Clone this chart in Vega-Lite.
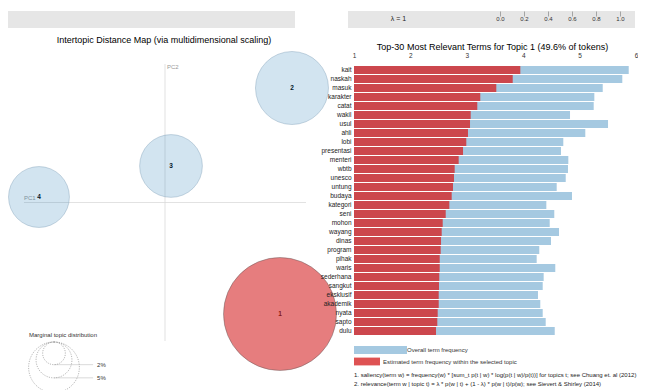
{
  "$schema": "https://vega.github.io/schema/vega-lite/v6.json",
  "padding": {"left": 7, "top": 10, "right": 0, "bottom": 0},
  "config": {
    "view": {"stroke": null},
    "font": "Liberation Sans",
    "title": {"fontWeight": "normal", "color": "#000"},
    "axis": {"grid": false}
  },
  "datasets": {
    "topics": [
      {"topic": 1, "PC1": 0.2447, "PC2": -0.2415, "share": 0.496},
      {"topic": 2, "PC1": 0.2702, "PC2": 0.248, "share": 0.207},
      {"topic": 3, "PC1": 0.0128, "PC2": 0.0791, "share": 0.153},
      {"topic": 4, "PC1": -0.2681, "PC2": 0.0119, "share": 0.144}
    ],
    "marginal": [
      {"share": 0.02, "label": "2%"},
      {"share": 0.05, "label": "5%"},
      {"share": 0.1, "label": "10%"}
    ],
    "terms": [
      {"term": "kait", "Total": 5.871, "Freq": 3.949},
      {"term": "naskah", "Total": 5.757, "Freq": 3.814},
      {"term": "masuk", "Total": 5.41, "Freq": 3.523},
      {"term": "karakter", "Total": 5.261, "Freq": 3.239},
      {"term": "catat", "Total": 5.25, "Freq": 3.186},
      {"term": "wakil", "Total": 4.83, "Freq": 3.069},
      {"term": "usul", "Total": 5.504, "Freq": 3.057},
      {"term": "ahli", "Total": 5.101, "Freq": 3.021},
      {"term": "lobi", "Total": 4.711, "Freq": 2.991},
      {"term": "presentasi", "Total": 4.67, "Freq": 2.933},
      {"term": "menteri", "Total": 4.8, "Freq": 2.856},
      {"term": "wbtb", "Total": 4.794, "Freq": 2.785},
      {"term": "unesco", "Total": 4.754, "Freq": 2.773},
      {"term": "untung", "Total": 4.594, "Freq": 2.755},
      {"term": "budaya", "Total": 4.865, "Freq": 2.732},
      {"term": "kategori", "Total": 4.41, "Freq": 2.69},
      {"term": "seni", "Total": 4.551, "Freq": 2.626},
      {"term": "mohon", "Total": 4.47, "Freq": 2.573},
      {"term": "wayang", "Total": 4.635, "Freq": 2.555},
      {"term": "dinas", "Total": 4.493, "Freq": 2.543},
      {"term": "program", "Total": 4.285, "Freq": 2.537},
      {"term": "pihak", "Total": 4.239, "Freq": 2.52},
      {"term": "waris", "Total": 4.569, "Freq": 2.52},
      {"term": "sederhana", "Total": 4.363, "Freq": 2.512},
      {"term": "sangkut", "Total": 4.346, "Freq": 2.507},
      {"term": "eksklusif", "Total": 4.262, "Freq": 2.502},
      {"term": "akademik", "Total": 4.303, "Freq": 2.502},
      {"term": "nyata", "Total": 4.346, "Freq": 2.484},
      {"term": "sapto", "Total": 4.399, "Freq": 2.477},
      {"term": "dulu", "Total": 4.559, "Freq": 2.454}
    ]
  },
  "columns": 2,
  "bounds": "flush",
  "align": {"row": "each", "column": "each"},
  "spacing": {"row": 36, "column": 53},
  "resolve": {"legend": {"color": "independent", "fill": "independent"}},
  "concat": [
    {
      "width": 287,
      "height": 17,
      "view": {"fill": "#e6e6e6", "stroke": null},
      "data": {"values": [{"panel": "topic"}]},
      "mark": {"type": "point", "opacity": 0},
      "encoding": {}
    },
    {
      "width": 287,
      "height": 17,
      "view": {"fill": "#e6e6e6", "stroke": null},
      "data": {"values": [{"lambda": 1}]},
      "mark": {"type": "point", "opacity": 0},
      "encoding": {
        "x": {
          "field": "lambda",
          "type": "quantitative",
          "scale": {"domain": [-1.267, 1.125], "nice": false, "zero": false},
          "axis": {
            "orient": "bottom",
            "offset": -17,
            "values": [0, 0.2, 0.4, 0.6, 0.8, 1],
            "format": ".1f",
            "domain": false,
            "tickSize": 5,
            "tickColor": "#777",
            "tickWidth": 0.6,
            "labelFontSize": 6,
            "labelPadding": -0.5,
            "labelColor": "#333",
            "labelFlush": false,
            "labelOverlap": false,
            "title": "λ = 1",
            "titleX": 50,
            "titleY": 7,
            "titleFontSize": 7,
            "titleFontWeight": "normal",
            "titleBaseline": "middle",
            "titleAlign": "center",
            "titleColor": "#222"
          }
        }
      }
    },
    {
      "bounds": "flush",
      "spacing": 1,
      "vconcat": [
        {
          "width": 298,
          "height": 277,
          "title": {
            "text": "Intertopic Distance Map (via multidimensional scaling)",
            "fontSize": 9,
            "offset": 5,
            "frame": "group",
            "anchor": "middle",
            "dx": 7
          },
          "layer": [
            {
              "data": {"values": [{"axis": "PC1"}]},
              "mark": {"type": "rule", "color": "#dadada", "strokeWidth": 0.8},
              "encoding": {
                "x": {"datum": -0.3, "scale": {"domain": [-0.334, 0.3], "nice": false, "zero": false}, "axis": null},
                "x2": {"datum": 0.3},
                "y": {"datum": 0, "scale": {"domain": [-0.3, 0.3], "nice": false, "zero": false}, "axis": null}
              }
            },
            {
              "data": {"values": [{"axis": "PC2"}]},
              "mark": {"type": "rule", "color": "#dadada", "strokeWidth": 0.8},
              "encoding": {
                "x": {"datum": 0, "axis": null},
                "y": {"datum": -0.3, "axis": null},
                "y2": {"datum": 0.3}
              }
            },
            {
              "data": {"values": [{"axis": "PC1"}]},
              "mark": {"type": "text", "align": "left", "baseline": "bottom", "dy": -2, "fontSize": 6, "color": "#999"},
              "encoding": {
                "x": {"datum": -0.3, "axis": null},
                "y": {"datum": 0, "axis": null},
                "text": {"field": "axis"}
              }
            },
            {
              "data": {"values": [{"axis": "PC2"}]},
              "mark": {"type": "text", "align": "left", "baseline": "top", "dx": 2, "fontSize": 6, "color": "#999"},
              "encoding": {
                "x": {"datum": 0, "axis": null},
                "y": {"datum": 0.3, "axis": null},
                "text": {"field": "axis"}
              }
            },
            {
              "data": {"name": "topics"},
              "mark": {"type": "text", "fontSize": 6.5, "fontWeight": "bold", "baseline": "middle", "color": "#000"},
              "encoding": {
                "x": {"field": "PC1", "type": "quantitative", "axis": null},
                "y": {"field": "PC2", "type": "quantitative", "axis": null},
                "text": {"field": "topic", "type": "nominal"}
              }
            },
            {
              "data": {"name": "topics"},
              "mark": {"type": "point", "shape": "circle", "filled": true, "opacity": 1, "strokeWidth": 0.7},
              "encoding": {
                "x": {"field": "PC1", "type": "quantitative", "axis": null},
                "y": {"field": "PC2", "type": "quantitative", "axis": null},
                "size": {
                  "field": "share",
                  "type": "quantitative",
                  "scale": {"domain": [0, 0.496], "range": [0, 12769]},
                  "legend": null
                },
                "fill": {
                  "condition": {"test": "datum.topic === 1", "value": "#d62728"},
                  "value": "#1f77b4"
                },
                "fillOpacity": {
                  "condition": {"test": "datum.topic === 1", "value": 0.6},
                  "value": 0.2
                },
                "stroke": {
                  "condition": {"test": "datum.topic === 1", "value": "#555555"},
                  "value": "#7f9fb8"
                },
                "strokeOpacity": {"value": 0.6}
              }
            }
          ]
        },
        {
          "width": 92,
          "height": 50.7,
          "title": {
            "text": "Marginal topic distribution",
            "fontSize": 6,
            "anchor": "start",
            "frame": "group",
            "dx": 21,
            "offset": 3,
            "color": "#333"
          },
          "data": {"name": "marginal"},
          "layer": [
            {
              "mark": {"type": "rule", "color": "#d0d0d0", "strokeWidth": 0.8},
              "encoding": {
                "x": {"datum": 0.5, "scale": {"domain": [0, 1], "nice": false, "zero": false}, "axis": null},
                "x2": {"datum": 0.925},
                "y": {
                  "field": "share",
                  "type": "quantitative",
                  "scale": {"type": "sqrt", "domain": [0, 0.1], "reverse": true, "nice": false},
                  "axis": null
                }
              }
            },
            {
              "mark": {
                "type": "point",
                "shape": "M0,0C0.5523,0,1,0.4477,1,1C1,1.5523,0.5523,2,0,2C-0.5523,2,-1,1.5523,-1,1C-1,0.4477,-0.5523,0,0,0Z",
                "filled": false,
                "stroke": "#999",
                "strokeWidth": 0.7,
                "strokeDash": [1.2, 1.2],
                "opacity": 1
              },
              "encoding": {
                "x": {"datum": 0.5, "axis": null},
                "y": {"datum": 0, "axis": null},
                "size": {
                  "field": "share",
                  "type": "quantitative",
                  "scale": {"domain": [0, 0.496], "range": [0, 12769]},
                  "legend": null
                }
              }
            },
            {
              "mark": {"type": "text", "align": "left", "baseline": "middle", "dx": 4, "fontSize": 6, "color": "#333"},
              "encoding": {
                "x": {"datum": 0.925, "axis": null},
                "y": {"field": "share", "type": "quantitative", "axis": null},
                "text": {"field": "label"}
              }
            }
          ]
        }
      ]
    },
    {
      "width": 288,
      "height": 273,
      "title": {
        "text": [
          "1. saliency(term w) = frequency(w) * [sum_t p(t | w) * log(p(t | w)/p(t))] for topics t; see Chuang et. al (2012)",
          "2. relevance(term w | topic t) = λ * p(w | t) + (1 - λ) * p(w | t)/p(w); see Sievert & Shirley (2014)"
        ],
        "orient": "bottom",
        "anchor": "start",
        "frame": "group",
        "dx": 6,
        "fontSize": 6,
        "lineHeight": 9,
        "offset": 6,
        "color": "#222"
      },
      "data": {"name": "terms"},
      "encoding": {
        "y": {
          "field": "term",
          "type": "nominal",
          "sort": null,
          "scale": {"paddingInner": 0.1, "paddingOuter": 0.22},
          "axis": {
            "title": null,
            "ticks": false,
            "domain": false,
            "labelFontSize": 6.5,
            "labelPadding": -3,
            "labelColor": "#222"
          }
        }
      },
      "layer": [
        {
          "mark": {"type": "bar", "opacity": 0.4},
          "encoding": {
            "x": {
              "field": "Total",
              "type": "quantitative",
              "scale": {"domain": [0.8936, 6], "nice": false, "zero": false},
              "axis": {
                "orient": "top",
                "values": [1, 2, 3, 4, 5, 6],
                "domain": false,
                "ticks": false,
                "tickSize": 0,
                "labelFontSize": 6.5,
                "labelPadding": 5.5,
                "labelColor": "#333",
                "labelFlush": false,
                "title": "Top-30 Most Relevant Terms for Topic 1 (49.6% of tokens)",
                "titleFontSize": 9,
                "titleFontWeight": "normal",
                "titlePadding": 1,
                "titleColor": "#000"
              }
            },
            "x2": {"datum": 1},
            "fill": {
              "datum": "Overall term frequency",
              "scale": {"range": ["#1f77b4"]},
              "legend": {
                "orient": "none",
                "legendX": 6,
                "legendY": 259.5,
                "title": null,
                "padding": 0,
                "symbolType": "M-1,-0.15H1V0.15H-1Z",
                "symbolSize": 2809,
                "symbolStrokeWidth": 0,
                "labelFontSize": 6,
                "labelColor": "#333",
                "labelOffset": 0,
                "labelLimit": 400
              }
            }
          }
        },
        {
          "mark": {"type": "bar", "opacity": 0.8},
          "encoding": {
            "x": {
              "field": "Freq",
              "type": "quantitative",
              "axis": {
                "orient": "top",
                "values": [1, 2, 3, 4, 5, 6],
                "domain": false,
                "ticks": false,
                "tickSize": 0,
                "labelFontSize": 6.5,
                "labelPadding": 5.5,
                "labelColor": "#333",
                "labelFlush": false,
                "title": "Top-30 Most Relevant Terms for Topic 1 (49.6% of tokens)",
                "titleFontSize": 9,
                "titleFontWeight": "normal",
                "titlePadding": 1,
                "titleColor": "#000"
              }
            },
            "x2": {"datum": 1},
            "color": {
              "datum": "Estimated term frequency within the selected topic",
              "scale": {"range": ["#d62728"]},
              "legend": {
                "orient": "none",
                "legendX": 6,
                "legendY": 284.5,
                "title": null,
                "padding": 0,
                "symbolType": "M-1,-0.3H1V0.3H-1Z",
                "symbolSize": 676,
                "symbolStrokeWidth": 0,
                "labelFontSize": 6,
                "labelColor": "#333",
                "labelOffset": 3,
                "labelLimit": 400
              }
            }
          }
        }
      ]
    }
  ]
}
